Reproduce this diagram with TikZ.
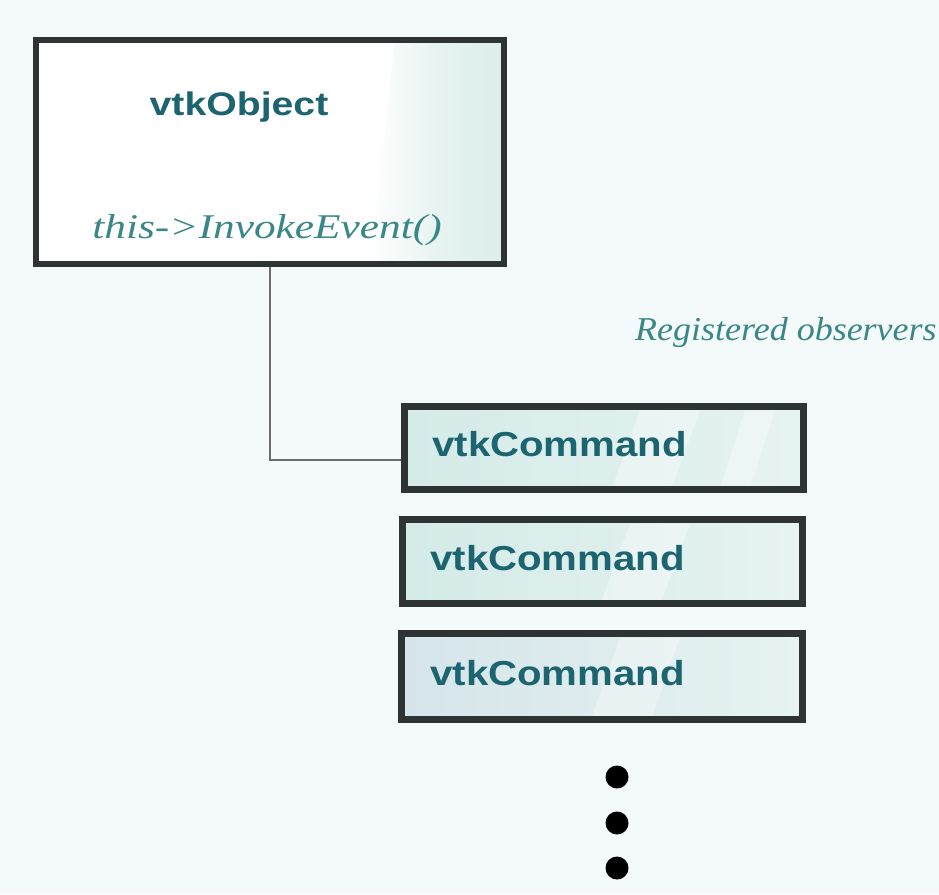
\documentclass[tikz,border=0pt]{standalone}
\usepackage{fontspec}
\usepackage{graphicx}
\setmainfont{Liberation Serif}
\setsansfont{Liberation Sans}
\usetikzlibrary{calc}
\definecolor{bgc}{HTML}{F4F9F9}
\definecolor{tealtxt}{HTML}{1B6470}
\definecolor{tealit}{HTML}{3A8788}
\definecolor{boxline}{HTML}{2E3333}
\definecolor{cmdfillA}{HTML}{D4EBE8}
\definecolor{cmdfillB}{HTML}{E6F3F2}
\definecolor{cmdfillC}{HTML}{D6E5EA}
\definecolor{bandc}{HTML}{DCEEEA}
\tikzset{
  objbox/.style={line width=3.9pt, outer sep=0pt, minimum width=468*0.75pt, minimum height=224*0.75pt, inner sep=0pt},
  cmdbox/.style={line width=5pt, outer sep=0pt, inner sep=0pt},
  border/.style={draw=boxline, line width=#1},
  cmdtext/.style={anchor=base west, inner sep=0pt, text=tealtxt, font=\sffamily\bfseries\fontsize{26}{30}\selectfont},
  conn/.style={draw=gray!85!black, line width=2pt},
  dotc/.style={circle, fill=black, minimum size=23*0.75pt, inner sep=0pt},
  stripe/.style={fill=white, opacity=0.35}
}
\begin{document}
\begin{tikzpicture}[x=0.75pt, y=-0.75pt]
\useasboundingbox (0,0) rectangle (939,894);
\fill[bgc] (0,0) rectangle (939,894);
% top box
\node[objbox, fill=white] (obj) at (270,152) {};
\shade[left color=white, right color=bandc, middle color=bandc!70!white] (395,40) -- (504,40) -- (504,264) -- (370,264) -- cycle;
% command boxes
\node[cmdbox, left color=cmdfillA, right color=cmdfillB, minimum width=399*0.75pt, minimum height=83*0.75pt] (cmd1) at (604,448) {};
\node[cmdbox, left color=cmdfillA, right color=cmdfillB, minimum width=400*0.75pt, minimum height=84*0.75pt] (cmd2) at (602.5,561.5) {};
\node[cmdbox, left color=cmdfillC, right color=cmdfillB, minimum width=401*0.75pt, minimum height=86*0.75pt] (cmd3) at (602,676.5) {};
% soft diagonal highlights
\fill[stripe] (640,410) -- (700,410) -- (672,488) -- (612,488) -- cycle;
\fill[stripe] (745,410) -- (775,410) -- (750,488) -- (720,488) -- cycle;
\fill[stripe] (630,524) -- (690,524) -- (662,600) -- (602,600) -- cycle;
\fill[stripe] (620,638) -- (680,638) -- (652,716) -- (592,716) -- cycle;
% connector
\coordinate (c1in) at ($(cmd1.west)+(0,12)$);
\draw[conn] (obj.south) |- (c1in);
% borders
\draw[border=3.9pt] (obj.north west) rectangle (obj.south east);
\draw[border=5pt] (cmd1.north west) rectangle (cmd1.south east);
\draw[border=5pt] (cmd2.north west) rectangle (cmd2.south east);
\draw[border=5pt] (cmd3.north west) rectangle (cmd3.south east);
% texts
\node[inner sep=0pt, text=tealtxt, font=\sffamily\bfseries\fontsize{24.5}{28}\selectfont] (objname) at (239,107) {\scalebox{1.2}[1]{vtkObject}};
\node[inner sep=0pt, anchor=base, text=tealit, font=\itshape\fontsize{26}{30}\selectfont] (invoke) at (267,238) {\scalebox{1.25}[1]{this->InvokeEvent()}};
\node[inner sep=0pt, anchor=base east, text=tealit, font=\itshape\fontsize{25}{30}\selectfont] (reg) at (937,340) {\scalebox{1.08}[1]{Registered observers}};
\node[cmdtext] (t1) at (432,456) {\scalebox{1.16}[1]{vtkCommand}};
\node[cmdtext] (t2) at (430,570) {\scalebox{1.16}[1]{vtkCommand}};
\node[cmdtext] (t3) at (430,685) {\scalebox{1.16}[1]{vtkCommand}};
% dots
\node[dotc] (d1) at (617,777) {};
\node[dotc] (d2) at (617,823) {};
\node[dotc] (d3) at (617,868) {};
\end{tikzpicture}
\end{document}
